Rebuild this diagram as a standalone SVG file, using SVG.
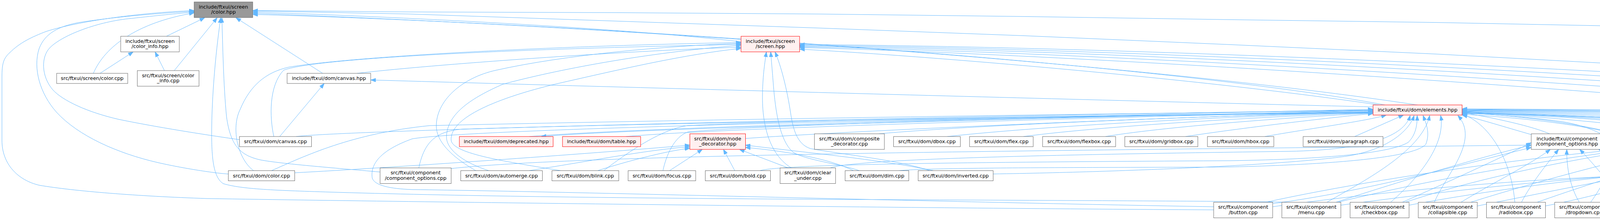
<svg xmlns="http://www.w3.org/2000/svg" width="6291" height="564" viewBox="0 0 6291 564">
<defs>
<style>
.node rect{fill:#ffffff;stroke:#666666;stroke-width:1}
.red rect{fill:#fff0f0;stroke:#ff0000}
.root rect{fill:#999999;stroke:#666666}
.node text{font-family:"DejaVu Sans","Liberation Sans",sans-serif;font-size:12.8px;text-anchor:middle;fill:#000000}
#edges path{fill:none;stroke:#63b8ff;stroke-width:1;marker-end:url(#ah)}
</style>
<marker id="ah" viewBox="0 0 13 10" refX="13" refY="5" markerWidth="13" markerHeight="10" markerUnits="userSpaceOnUse" orient="auto"><path d="M0,0.3 L13,5 L0,9.7 Z" fill="#63b8ff" stroke="#63b8ff" stroke-width="1"/></marker>
</defs>
<rect x="0" y="0" width="6291" height="564" fill="#ffffff"/>
<g id="edges">
<path d="M426,93 L524,45.5"/>
<path d="M1897,107 C1600,72 1000,42 647,31"/>
<path d="M239,188 C268,120 350,58 497,33"/>
<path d="M446,181 L556,45.5"/>
<path d="M826,188 L604,45.5"/>
<path d="M613,358 C570,352 420,330 304,306 C225,288 160,258 135,230 C105,195 105,145 128,122 C160,90 250,55 338,47 C400,40 450,35 497,31"/>
<path d="M584,446 C560,445 480,434 405,417 C300,393 200,348 145,288 C102,240 84,175 100,125 C115,85 150,68 200,58 C300,42 420,33 497,29"/>
<path d="M3107,538 C2500,535 1200,520 530,509 C350,503 190,490 101,475 C45,462 5,420 5,360 L5,198 C5,165 8,150 25,135 C50,110 80,95 120,80 C200,55 350,33 497,27"/>
<path d="M3296,518.5 C3250,516 2700,514 2105,511 C1600,508 1200,503 863,493 C700,488 620,485 572,471 C545,455 541,400 542,324 C543,250 550,150 565,45.5"/>
<path d="M973,441 C850,430 720,420 667,410 C612,398 590,370 580,300 C572,220 570,110 568,45.5"/>
<path d="M6084,350 L5780,304 L5250,245 L4725,200 L4200,167 L3675,138.5 L3150,114.4 L2625,91.7 L2100,72 L1575,54 L1050,36 L647,28"/>
<path d="M5702,533 L5775,528 C5900,510 6005,496 6100,480 C6200,460 6252,430 6270,400 C6278,385 6278.5,370 6278.5,360 L6278.5,198 C6278.5,190 6275,187 6268,184 C6230,172 6170,162 6100,152 C6000,138 5900,130 5775,126 L5250,100 L4725,82 L4200,68 L3675,57.6 L3150,50.4 L2625,42.4 L2100,36 L1575,32.4 L1050,30.6 L647,27"/>
<path d="M3545,269 C3000,165 1500,60 647,37"/>
<path d="M3967,343 C3700,230 2000,85 647,34"/>
<path d="M914,188 C1100,166 1600,130 1897,121"/>
<path d="M701,350 C690,300 688,220 726,180 C800,150 1300,125 1897,114"/>
<path d="M650,438 C610,410 590,330 615,280 C640,220 680,185 740,172 C900,145 1400,118 1897,109"/>
<path d="M1219,438 C1170,410 1118,370 1117,324 C1116,260 1180,200 1270,180 C1450,140 1700,118 1897,111"/>
<path d="M1253,438 C1180,415 1142,380 1143,350 C1145,290 1210,250 1287,216 C1420,180 1650,135 1897,116"/>
<path d="M1439,438 C1300,415 1160,395 1155,360 C1150,300 1280,250 1420,216 C1600,175 1750,140 1897,124"/>
<path d="M2026,430.5 C1975,400 1950,330 1952,240 C1953,190 1958,160 1962,133"/>
<path d="M2200,437.5 C2150,420 2060,410 2030,390 C1995,360 1985,280 1980,220 C1977,180 1975,160 1973,133"/>
<path d="M2380,437.5 C2300,410 2150,395 2075,381 C2040,370 2030,330 2024,290 C2015,230 2000,170 1984,133"/>
<path d="M3530,269 C3100,205 2400,145 2047,126"/>
<path d="M5290,350 C4500,250 2800,140 2047,122"/>
<path d="M5495,350 C4700,243 2900,135 2047,120"/>
<path d="M5700,350 C4900,238 3000,130 2047,118"/>
<path d="M5900,350 C5100,233 3100,126 2047,116"/>
<path d="M6100,350 C5300,228 3200,122 2047,114"/>
<path d="M3515,274 C3000,262 1600,224 949,205"/>
<path d="M1355,350 C1700,322 3000,292 3515,280"/>
<path d="M3515,283 C3000,296 1700,324 1385,350"/>
<path d="M1602,350 C1900,324 3000,298 3515,284"/>
<path d="M758,350 C900,332 2500,296 3515,282"/>
<path d="M1908,355 C2200,334 3000,300 3515,286"/>
<path d="M2250,343 C2500,320 3100,297 3515,287"/>
<path d="M2425,350 C2700,320 3200,296 3515,288"/>
<path d="M2620,350 C2850,320 3300,296 3515,289"/>
<path d="M2830,350 C3000,322 3350,298 3515,290"/>
<path d="M3035,350 C3200,325 3420,300 3515,291"/>
<path d="M3238,350 C3350,330 3500,310 3549,295"/>
<path d="M3468,350 L3593,295"/>
<path d="M694,438 C780,400 900,342 1100,322 C2000,302 3000,290 3515,283"/>
<path d="M1072,431 C1085,370 1110,336 1185,331 C1800,312 3000,295 3515,288"/>
<path d="M1545,438 C1620,380 1700,330 1760,322 C2100,305 3000,292 3515,290"/>
<path d="M1697,438 C1705,400 1725,350 1762,338 C2000,316 3000,293 3515,287"/>
<path d="M3107,530 C2500,520 1500,492 1055,486 C1000,484 960,476 953,457 C947,420 975,385 1055,356 C1200,330 2500,300 3515,289"/>
<path d="M2543,446 C2900,440 3300,422 3450,400 C3560,382 3610,330 3620,296"/>
<path d="M1945,437.5 C2000,422 2400,416 3150,412 C3400,408 3560,392 3605,365 C3625,345 3628,320 3628,296"/>
<path d="M2300,437.5 C2400,428 2900,430 3150,428 C3400,422 3620,405 3650,370 C3662,340 3650,315 3643,296"/>
<path d="M2125,430.5 C2200,405 2800,395 3300,388 C3500,384 3595,350 3610,296"/>
<path d="M3920,345 C3850,325 3790,306 3743,295"/>
<path d="M4406,352 C4200,322 3950,298 3743,287"/>
<path d="M4348,430.5 C4250,350 4000,302 3743,289"/>
<path d="M5275,350 C5000,310 4300,291 3743,283"/>
<path d="M5480,350 C5200,306 4400,289 3743,282"/>
<path d="M5683,350 C5400,305 4500,288 3743,281"/>
<path d="M5884,350 C5600,301 4600,286 3743,280"/>
<path d="M6084,350 C5800,298 4700,284 3743,279"/>
<path d="M3397,518.5 C3480,470 3640,390 3660,296"/>
<path d="M3560,518.5 C3650,440 3700,360 3688,296"/>
<path d="M3672,518.5 C3700,450 3790,360 3732,296"/>
<path d="M3878,518.5 C3870,420 3820,320 3743,292"/>
<path d="M4072,518.5 C4130,440 4145,360 4115,338 C4000,312 3850,299 3743,293"/>
<path d="M4227,518.5 C4210,440 4165,340 4000,312 C3900,298 3800,292 3743,290"/>
<path d="M4594,518.5 C4650,440 4645,350 4560,332 C4300,305 3950,292 3743,290"/>
<path d="M4750,518.5 C4760,430 4700,355 4600,334 C4300,306 3950,294 3743,291"/>
<path d="M4900,518.5 C4850,420 4600,320 3743,288"/>
<path d="M5080,518.5 C4950,400 4600,318 3743,287"/>
<path d="M5250,518.5 C5100,400 4700,314 3743,286"/>
<path d="M5420,518.5 C5250,390 4800,310 3743,285"/>
<path d="M5600,518.5 C5450,380 4900,305 3743,284"/>
<path d="M3258,522 C3500,490 3750,420 3920,378"/>
<path d="M3420,518.5 C3600,460 3800,400 3920,372"/>
<path d="M3590,518.5 C3700,470 3830,410 3920,366"/>
<path d="M3740,518.5 C3820,470 3920,420 3969,383"/>
<path d="M3895,518.5 C3920,470 3960,420 3990,383"/>
<path d="M4043,518.5 C4020,480 4010,430 4011,383"/>
<path d="M4160,518.5 C4120,470 4080,420 4044,383"/>
<path d="M4288,430.5 C4220,410 4130,395 4092,383"/>
<path d="M5560,518.5 C5200,450 4500,375 4103,366"/>
<path d="M1155,432 C1500,396 2500,388 3920,372"/>
<path d="M3240,518.5 C3600,440 4100,380 4406,362"/>
<path d="M3425,518.5 C3700,450 4100,385 4406,358"/>
<path d="M3598,518.5 C3800,450 4100,390 4406,355"/>
<path d="M3765,518.5 C3950,460 4200,395 4406,352"/>
<path d="M3935,518.5 C4100,460 4300,400 4406,366"/>
<path d="M4100,518.5 C4200,470 4330,405 4406,378"/>
<path d="M4305,522 C4400,498 4465,472 4482,440 C4494,418 4496,400 4496,383"/>
<path d="M4397,430.5 L4468,383"/>
<path d="M4450,518.5 C4500,480 4525,440 4510,383"/>
<path d="M4580,518.5 C4585,470 4560,420 4530,383"/>
<path d="M4730,518.5 C4680,480 4600,430 4552,383"/>
<path d="M4905,518.5 C4800,460 4650,400 4575,383"/>
<path d="M5060,518.5 C4900,450 4700,390 4585,372"/>
<path d="M5230,518.5 C5050,450 4750,385 4585,364"/>
<path d="M5410,518.5 C5200,450 4800,380 4585,357"/>
<path d="M5580,518.5 C5400,440 4900,368 4585,350"/>
<path d="M3258,530 C3600,482 4000,452 4279,448"/>
<path d="M3432,526 C3700,490 4000,456 4279,443"/>
<path d="M3607,526 C3800,490 4050,456 4279,439"/>
<path d="M3782,528 C3950,495 4100,462 4279,435"/>
<path d="M3956,528 C4100,500 4200,466 4279,452"/>
<path d="M4131,526 C4180,500 4230,474 4279,458"/>
<path d="M4261,518.5 L4332,470.5"/>
<path d="M4398,518.5 L4383,470.5"/>
<path d="M4533,518.5 L4423,470.5"/>
<path d="M4690,518.5 C4620,500 4520,480 4459,466"/>
<path d="M4880,518.5 C4750,480 4600,452 4459,460"/>
<path d="M5040,518.5 C4850,478 4650,452 4459,455"/>
<path d="M5210,518.5 C5000,478 4700,446 4459,450"/>
<path d="M5380,520 C5100,478 4750,440 4459,445"/>
<path d="M5552,525 C5200,478 4800,436 4459,440"/>
<path d="M754,443 C1000,430 1500,395 1766,372"/>
<path d="M1354,437.5 C1500,415 1650,385 1766,376"/>
<path d="M1530,437.5 C1600,415 1700,388 1766,380"/>
<path d="M1714,437.5 L1798,383"/>
<path d="M1881,437.5 L1852,383"/>
<path d="M2018,430.5 L1893,383"/>
<path d="M2185,437.5 C2120,405 2000,386 1908,378"/>
<path d="M2390,437.5 C2250,408 2050,390 1908,372"/>
<path d="M256,188 L341,133"/>
<path d="M421,181 L397,133"/>
<path d="M716,350 L830,214"/>
</g>
<g id="n_color_hpp" class="node root"><rect x="497" y="5" width="150" height="40"/><text x="572" y="21.5">include/ftxui/screen</text><text x="572" y="35">/color.hpp</text></g>
<g id="n_color_info_hpp" class="node"><rect x="309" y="93" width="150" height="40"/><text x="384" y="109.5">include/ftxui/screen</text><text x="384" y="123">/color_info.hpp</text></g>
<g id="n_screen_hpp" class="node red"><rect x="1897" y="93" width="150" height="40"/><text x="1972" y="109.5">include/ftxui/screen</text><text x="1972" y="123">/screen.hpp</text></g>
<g id="n_screen_color_cpp" class="node"><rect x="145" y="188" width="182" height="26"/><text x="236" y="205">src/ftxui/screen/color.cpp</text></g>
<g id="n_color_info_cpp" class="node"><rect x="351.5" y="181" width="158" height="40"/><text x="430.5" y="197.5">src/ftxui/screen/color</text><text x="430.5" y="211">_info.cpp</text></g>
<g id="n_canvas_hpp" class="node"><rect x="735" y="188" width="214" height="26"/><text x="842" y="205">include/ftxui/dom/canvas.hpp</text></g>
<g id="n_elements_hpp" class="node red"><rect x="3515" y="269" width="228" height="26"/><text x="3629" y="286">include/ftxui/dom/elements.hpp</text></g>
<g id="n_canvas_cpp" class="node"><rect x="613" y="350" width="184.5" height="26"/><text x="705.3" y="367">src/ftxui/dom/canvas.cpp</text></g>
<g id="n_deprecated_hpp" class="node red"><rect x="1176" y="350" width="240" height="26"/><text x="1296" y="367">include/ftxui/dom/deprecated.hpp</text></g>
<g id="n_table_hpp" class="node red"><rect x="1440" y="350" width="200" height="26"/><text x="1540" y="367">include/ftxui/dom/table.hpp</text></g>
<g id="n_node_decorator_hpp" class="node red"><rect x="1766" y="343" width="142.5" height="40"/><text x="1837.3" y="359.5">src/ftxui/dom/node</text><text x="1837.3" y="373">_decorator.hpp</text></g>
<g id="n_composite_decorator_cpp" class="node"><rect x="2085" y="343" width="179" height="40"/><text x="2174.5" y="359.5">src/ftxui/dom/composite</text><text x="2174.5" y="373">_decorator.cpp</text></g>
<g id="n_dbox_cpp" class="node"><rect x="2287.5" y="350" width="171" height="26"/><text x="2373" y="367">src/ftxui/dom/dbox.cpp</text></g>
<g id="n_flex_cpp" class="node"><rect x="2482" y="350" width="163" height="26"/><text x="2563.5" y="367">src/ftxui/dom/flex.cpp</text></g>
<g id="n_flexbox_cpp" class="node"><rect x="2669" y="350" width="187" height="26"/><text x="2762.5" y="367">src/ftxui/dom/flexbox.cpp</text></g>
<g id="n_gridbox_cpp" class="node"><rect x="2879.5" y="350" width="187" height="26"/><text x="2973" y="367">src/ftxui/dom/gridbox.cpp</text></g>
<g id="n_hbox_cpp" class="node"><rect x="3091" y="350" width="170" height="26"/><text x="3176" y="367">src/ftxui/dom/hbox.cpp</text></g>
<g id="n_paragraph_cpp" class="node"><rect x="3336" y="350" width="204.5" height="26"/><text x="3438.3" y="367">src/ftxui/dom/paragraph.cpp</text></g>
<g id="n_component_options_hpp" class="node"><rect x="3920" y="343" width="183" height="40"/><text x="4011.5" y="359.5">include/ftxui/component</text><text x="4011.5" y="373">/component_options.hpp</text></g>
<g id="n_component_base_hpp" class="node red"><rect x="4406.5" y="343" width="179" height="40"/><text x="4496" y="359.5">include/ftxui/component</text><text x="4496" y="373">/component_base.hpp</text></g>
<g id="n_border_cpp" class="node"><rect x="5242.5" y="350" width="179" height="26"/><text x="5332" y="367">src/ftxui/dom/border.cpp</text></g>
<g id="n_frame_cpp" class="node"><rect x="5446" y="350" width="177.5" height="26"/><text x="5534.8" y="367">src/ftxui/dom/frame.cpp</text></g>
<g id="n_gauge_cpp" class="node"><rect x="5648" y="350" width="178" height="26"/><text x="5737" y="367">src/ftxui/dom/gauge.cpp</text></g>
<g id="n_graph_cpp" class="node"><rect x="5850" y="350" width="173" height="26"/><text x="5936.5" y="367">src/ftxui/dom/graph.cpp</text></g>
<g id="n_separator_cpp" class="node"><rect x="6046" y="350" width="197" height="26"/><text x="6144.5" y="367">src/ftxui/dom/separator.cpp</text></g>
<g id="n_dom_color_cpp" class="node"><rect x="584.5" y="437.5" width="170" height="26"/><text x="669.5" y="454.5">src/ftxui/dom/color.cpp</text></g>
<g id="n_component_options_cpp" class="node"><rect x="973" y="430.5" width="182" height="40"/><text x="1064" y="447">src/ftxui/component</text><text x="1064" y="460.5">/component_options.cpp</text></g>
<g id="n_automerge_cpp" class="node"><rect x="1179.5" y="437.5" width="209" height="26"/><text x="1284" y="454.5">src/ftxui/dom/automerge.cpp</text></g>
<g id="n_blink_cpp" class="node"><rect x="1413" y="437.5" width="171" height="26"/><text x="1498.5" y="454.5">src/ftxui/dom/blink.cpp</text></g>
<g id="n_focus_cpp" class="node"><rect x="1608" y="437.5" width="173" height="26"/><text x="1694.5" y="454.5">src/ftxui/dom/focus.cpp</text></g>
<g id="n_bold_cpp" class="node"><rect x="1805.5" y="437.5" width="167" height="26"/><text x="1889" y="454.5">src/ftxui/dom/bold.cpp</text></g>
<g id="n_clear_under_cpp" class="node"><rect x="1997" y="430.5" width="142" height="40"/><text x="2068" y="447">src/ftxui/dom/clear</text><text x="2068" y="460.5">_under.cpp</text></g>
<g id="n_dim_cpp" class="node"><rect x="2163.5" y="437.5" width="163" height="26"/><text x="2245" y="454.5">src/ftxui/dom/dim.cpp</text></g>
<g id="n_inverted_cpp" class="node"><rect x="2350.5" y="437.5" width="192" height="26"/><text x="2446.5" y="454.5">src/ftxui/dom/inverted.cpp</text></g>
<g id="n_component_hpp" class="node red"><rect x="4279.5" y="430.5" width="179" height="40"/><text x="4369" y="447">include/ftxui/component</text><text x="4369" y="460.5">/component.hpp</text></g>
<g id="n_button_cpp" class="node"><rect x="3107" y="518.5" width="151" height="40"/><text x="3182.5" y="535">src/ftxui/component</text><text x="3182.5" y="548.5">/button.cpp</text></g>
<g id="n_menu_cpp" class="node"><rect x="3281.6" y="518.5" width="151" height="40"/><text x="3357.1" y="535">src/ftxui/component</text><text x="3357.1" y="548.5">/menu.cpp</text></g>
<g id="n_checkbox_cpp" class="node"><rect x="3456.2" y="518.5" width="151" height="40"/><text x="3531.7" y="535">src/ftxui/component</text><text x="3531.7" y="548.5">/checkbox.cpp</text></g>
<g id="n_collapsible_cpp" class="node"><rect x="3630.8" y="518.5" width="151" height="40"/><text x="3706.3" y="535">src/ftxui/component</text><text x="3706.3" y="548.5">/collapsible.cpp</text></g>
<g id="n_radiobox_cpp" class="node"><rect x="3805.4" y="518.5" width="151" height="40"/><text x="3880.9" y="535">src/ftxui/component</text><text x="3880.9" y="548.5">/radiobox.cpp</text></g>
<g id="n_dropdown_cpp" class="node"><rect x="3980" y="518.5" width="151" height="40"/><text x="4055.5" y="535">src/ftxui/component</text><text x="4055.5" y="548.5">/dropdown.cpp</text></g>
<g id="n_input_cpp" class="node"><rect x="4154.6" y="518.5" width="151" height="40"/><text x="4230.1" y="535">src/ftxui/component</text><text x="4230.1" y="548.5">/input.cpp</text></g>
<g id="n_component_cpp" class="node"><rect x="4329.2" y="518.5" width="151" height="40"/><text x="4404.7" y="535">src/ftxui/component</text><text x="4404.7" y="548.5">/component.cpp</text></g>
<g id="n_container_cpp" class="node"><rect x="4503.8" y="518.5" width="151" height="40"/><text x="4579.3" y="535">src/ftxui/component</text><text x="4579.3" y="548.5">/container.cpp</text></g>
<g id="n_hoverable_cpp" class="node"><rect x="4678.4" y="518.5" width="151" height="40"/><text x="4753.9" y="535">src/ftxui/component</text><text x="4753.9" y="548.5">/hoverable.cpp</text></g>
<g id="n_maybe_cpp" class="node"><rect x="4853" y="518.5" width="151" height="40"/><text x="4928.5" y="535">src/ftxui/component</text><text x="4928.5" y="548.5">/maybe.cpp</text></g>
<g id="n_modal_cpp" class="node"><rect x="5027.6" y="518.5" width="151" height="40"/><text x="5103.1" y="535">src/ftxui/component</text><text x="5103.1" y="548.5">/modal.cpp</text></g>
<g id="n_renderer_cpp" class="node"><rect x="5202.2" y="518.5" width="151" height="40"/><text x="5277.7" y="535">src/ftxui/component</text><text x="5277.7" y="548.5">/renderer.cpp</text></g>
<g id="n_resizable_split_cpp" class="node"><rect x="5376.8" y="518.5" width="151" height="40"/><text x="5452.3" y="535">src/ftxui/component</text><text x="5452.3" y="548.5">/resizable_split.cpp</text></g>
<g id="n_slider_cpp" class="node"><rect x="5551.4" y="518.5" width="151" height="40"/><text x="5626.9" y="535">src/ftxui/component</text><text x="5626.9" y="548.5">/slider.cpp</text></g>
</svg>
